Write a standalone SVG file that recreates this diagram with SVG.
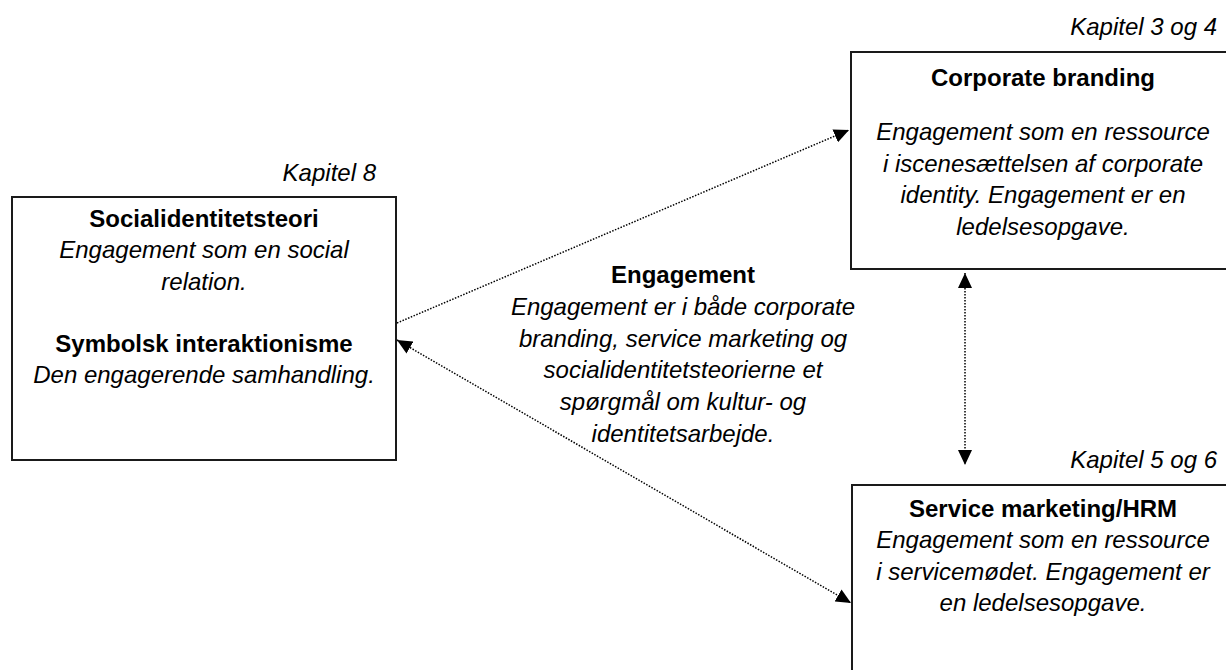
<svg xmlns="http://www.w3.org/2000/svg" width="1226" height="670" viewBox="0 0 1226 670">
<style>
  text { font-family: "Liberation Sans", Arial, sans-serif; font-size: 24px; fill: #000; }
  .b { font-weight: bold; }
  .i { font-style: italic; }
  .c { text-anchor: middle; }
  .r { text-anchor: end; }
  .box { fill: #fff; stroke: #1a1a1a; stroke-width: 2; }
  .con { fill: none; stroke: #000; stroke-width: 1.5; stroke-dasharray: 1.5 1.5; }
</style>
<defs>
  <marker id="arr" viewBox="0 0 15 14" refX="15" refY="7" markerWidth="15" markerHeight="14" markerUnits="userSpaceOnUse" orient="auto-start-reverse">
    <path d="M0,0 L15,7 L0,14 Z" fill="#000"/>
  </marker>
</defs>
<rect width="1226" height="670" fill="#fff"/>

<g id="connectors">
  <path class="con" d="M397,323 L849,130" marker-end="url(#arr)"/>
  <path class="con" d="M397,340 L851,603" marker-start="url(#arr)" marker-end="url(#arr)"/>
  <path class="con" d="M965,273 L965,465" marker-start="url(#arr)" marker-end="url(#arr)"/>
</g>

<g id="corporate-branding">
  <text class="i r" x="1217" y="35">Kapitel 3 og 4</text>
  <rect class="box" x="851" y="52" width="385" height="217"/>
  <text class="b c" x="1043" y="86">Corporate branding</text>
  <text class="i c" x="1043" y="140">Engagement som en ressource</text>
  <text class="i c" x="1043" y="172">i iscenesættelsen af corporate</text>
  <text class="i c" x="1043" y="203">identity. Engagement er en</text>
  <text class="i c" x="1043" y="235">ledelsesopgave.</text>
</g>

<g id="socialidentitet">
  <text class="i r" x="376" y="181">Kapitel 8</text>
  <rect class="box" x="12" y="197" width="384" height="263"/>
  <text class="b c" x="204" y="227">Socialidentitetsteori</text>
  <text class="i c" x="204" y="258">Engagement som en social</text>
  <text class="i c" x="204" y="290">relation.</text>
  <text class="b c" x="204" y="352">Symbolsk interaktionisme</text>
  <text class="i c" x="204" y="383">Den engagerende samhandling.</text>
</g>

<g id="engagement">
  <text class="b c" x="683" y="283">Engagement</text>
  <text class="i c" x="683" y="315">Engagement er i både corporate</text>
  <text class="i c" x="683" y="347">branding, service marketing og</text>
  <text class="i c" x="683" y="378">socialidentitetsteorierne et</text>
  <text class="i c" x="683" y="410">spørgmål om kultur- og</text>
  <text class="i c" x="683" y="442">identitetsarbejde.</text>
</g>

<g id="service-marketing">
  <text class="i r" x="1217" y="468">Kapitel 5 og 6</text>
  <rect class="box" x="852" y="485" width="385" height="200"/>
  <text class="b c" x="1043" y="517">Service marketing/HRM</text>
  <text class="i c" x="1043" y="548">Engagement som en ressource</text>
  <text class="i c" x="1043" y="580">i servicemødet. Engagement er</text>
  <text class="i c" x="1043" y="611">en ledelsesopgave.</text>
</g>
</svg>
